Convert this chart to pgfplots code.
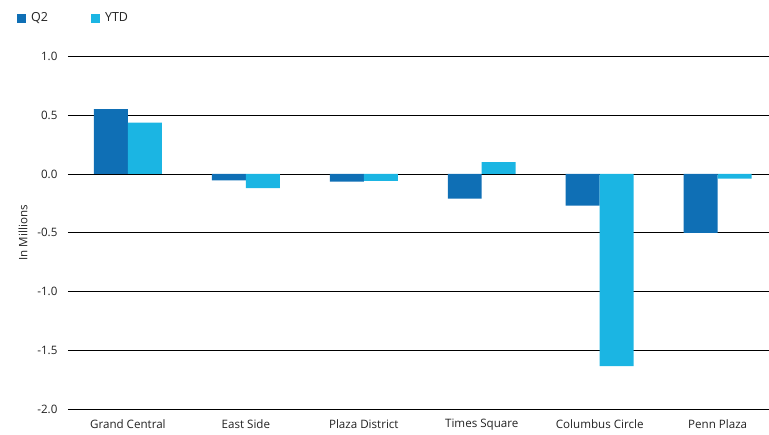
\documentclass[border=0pt]{standalone}
\usepackage{pgfplots}
\pgfplotsset{compat=1.18}
\usepackage{fontspec}
\setmainfont{Open Sans}
\definecolor{qtwo}{HTML}{0F6FB5}
\definecolor{ytd}{HTML}{1BB5E3}
\definecolor{txt}{HTML}{222222}
\begin{document}
\begin{tikzpicture}[x=1pt,y=1pt]
\path (0,0) rectangle (769,435);
\begin{axis}[
  at={(68pt,25pt)}, anchor=south west,
  scale only axis, width=701pt, height=354pt,
  ybar=0pt, bar width=34pt,
  xmin=-0.508, xmax=5.432,
  ymin=-2, ymax=1,
  ytick={-2,-1.5,-1,-0.5,0,0.5,1},
  xtick={0,1,2,3,4,5},
  xticklabels={Grand Central,East Side,Plaza District,Times Square,Columbus Circle,Penn Plaza},
  /pgf/number format/assume math mode=true,
  yticklabel={\pgfmathprintnumber[fixed,fixed zerofill,precision=1]{\tick}},
  axis line style={draw=none},
  major tick length=0pt,
  ymajorgrids, major grid style={black, line width=0.8pt},
  ticklabel style={font=\fontsize{11.6pt}{13pt}\selectfont, text=txt},
  yticklabel style={xshift=-7pt},
  xticklabel style={yshift=-6pt},
  legend style={at={(-0.077,1.107)}, anchor=west, draw=none, fill=none,
    font=\fontsize{12.5pt}{14pt}\selectfont, text=txt,
    legend columns=2,
    /tikz/every odd column/.append style={column sep=3pt},
    /tikz/every even column/.append style={column sep=41pt}},
  legend image code/.code={\fill[#1] (0pt,-4.5pt) rectangle (9pt,4.5pt);},
]
\addplot[fill=qtwo, draw=none] coordinates {(0,0.55) (1,-0.055) (2,-0.065) (3,-0.21) (4,-0.27) (5,-0.50)};
\addplot[fill=ytd, draw=none] coordinates {(0,0.435) (1,-0.12) (2,-0.06) (3,0.10) (4,-1.63) (5,-0.04)};
\legend{Q2,YTD}
\end{axis}
\node[rotate=90, text=txt, font=\fontsize{11.6pt}{13pt}\selectfont] at (23,202) {In Millions};
\end{tikzpicture}
\end{document}
